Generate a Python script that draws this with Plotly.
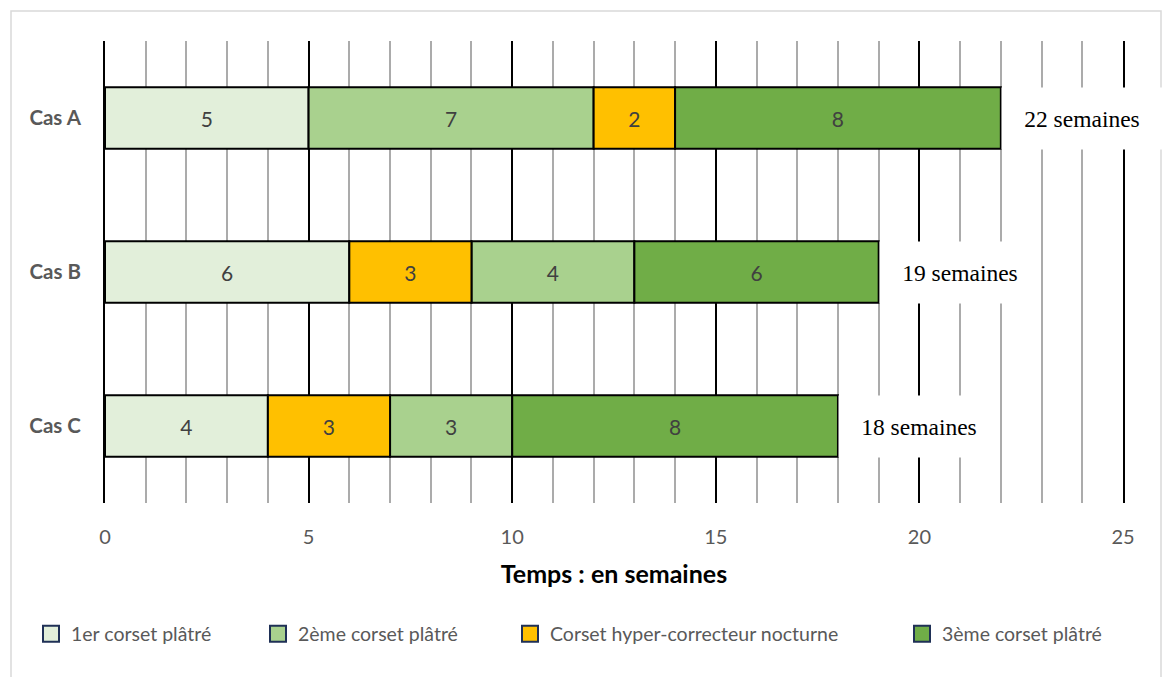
import plotly.graph_objects as go

cases = ["Cas A", "Cas B", "Cas C"]
series_names = ["1er corset plâtré", "2ème corset plâtré",
                "Corset hyper-correcteur nocturne", "3ème corset plâtré"]
premier = [5, 6, 4]
deuxieme = [7, 4, 3]
hyper = [2, 3, 3]
troisieme = [8, 6, 8]
# order of segments (index into series_names) for each case
orders = [[0, 1, 2, 3], [0, 2, 1, 3], [0, 2, 1, 3]]
colors = ["#E2EFDA", "#A9D18E", "#FFC000", "#70AD47"]
x_ticks = [0, 5, 10, 15, 20, 25]

values = [premier, deuxieme, hyper, troisieme]

# compute bases from the order lists
bases = [[0] * len(cases) for _ in values]
for ci, order in enumerate(orders):
    acc = 0
    for si in order:
        bases[si][ci] = acc
        acc += values[si][ci]
totals = [sum(v[ci] for v in values) for ci in range(len(cases))]

FONT = "Lato"
fig = go.Figure()
for si, name in enumerate(series_names):
    fig.add_trace(go.Bar(
        y=cases, x=values[si], base=bases[si], orientation="h",
        name=name, width=0.4, showlegend=False,
        marker=dict(color=colors[si], line=dict(color="black", width=2)),
        text=[str(v) for v in values[si]], textposition="inside",
        insidetextanchor="middle", textangle=0,
        textfont=dict(family=FONT, size=21, color="#404040"),
        hoverinfo="skip",
    ))

# legend entries
legend_x_px = [31, 258, 510, 902]
for si, name in enumerate(series_names):
    lg = "legend" if si == 0 else f"legend{si+1}"
    fig.add_trace(go.Scatter(
        x=[None], y=[None], mode="markers", name=name, legend=lg,
        marker=dict(symbol="square", size=16, color=colors[si],
                    line=dict(color="#1F3056", width=2)),
    ))

W, H = 1167, 677
L, R, T, B = 105, 44, 41, 174
pw, ph = W - L - R, H - T - B

for ci, c in enumerate(cases):
    fig.add_annotation(
        x=totals[ci], y=c, xref="x", yref="y", xanchor="left",
        text=f"{totals[ci]} semaines", showarrow=False,
        bgcolor="white", width=158, height=59, borderpad=1,
        font=dict(family="Liberation Serif", size=23.5, color="black"),
    )

leg_common = dict(orientation="h", yanchor="middle", xanchor="left",
                  font=dict(family=FONT, size=19.5, color="#595959"),
                  bgcolor="rgba(0,0,0,0)")
legend_layout = {}
for si in range(4):
    key = "legend" if si == 0 else f"legend{si+1}"
    legend_layout[key] = dict(leg_common, x=(legend_x_px[si] - L) / pw,
                              y=(T + ph - 634) / ph)

fig.update_layout(
    width=W, height=H, margin=dict(l=L, r=R, t=T, b=B),
    paper_bgcolor="white", plot_bgcolor="white",
    barmode="overlay",
    xaxis=dict(range=[0, 25], tickvals=x_ticks, showgrid=True,
               gridcolor="black", gridwidth=2, zeroline=False,
               showline=False, ticks="", ticklabelstandoff=20,
               tickfont=dict(family=FONT, size=20, color="#595959"),
               minor=dict(dtick=1, showgrid=True, gridcolor="#ABABAB",
                          gridwidth=1.5),
               title=dict(text="<b>Temps : en semaines</b>", standoff=18,
                          font=dict(family=FONT, size=25, color="black"))),
    yaxis=dict(categoryorder="array", categoryarray=cases,
               range=[2.5, -0.5], showgrid=False, zeroline=False,
               showline=True, mirror=True, linecolor="black", linewidth=2,
               ticks="", ticklabelstandoff=18,
               tickfont=dict(family=FONT, size=20.5, color="#595959",
                             weight="bold")),
    shapes=[dict(type="rect", xref="paper", yref="paper",
                 x0=(11 - L) / pw, x1=(1161 - L) / pw,
                 y0=(T + ph - 700) / ph, y1=(T + ph - 11) / ph,
                 line=dict(color="#D9D9D9", width=1.5),
                 fillcolor="rgba(0,0,0,0)", layer="below")],
    **legend_layout,
)

fig.write_html("out.html")
